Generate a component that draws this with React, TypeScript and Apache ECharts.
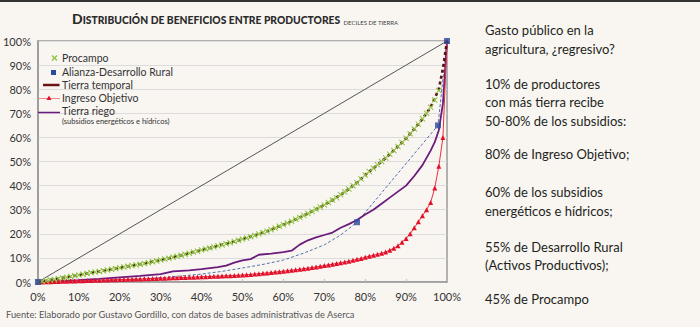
import React, { useEffect, useRef } from "react";
import * as echarts from "echarts";

// Procampo: share of subsidies by cumulative % of producers (1% steps, 0..98)
const procampo = [
  0, 0.2, 0.5, 0.8, 1.1, 1.4, 1.7, 2.0, 2.3, 2.6, 2.9,
  3.2, 3.5, 3.8, 4.1, 4.4, 4.7, 5.0, 5.3, 5.6, 5.9,
  6.2, 6.5, 6.8, 7.1, 7.4, 7.7, 8.0, 8.4, 8.7, 9.1,
  9.5, 9.9, 10.3, 10.7, 11.1, 11.5, 11.9, 12.4, 12.8, 13.3,
  13.7, 14.1, 14.5, 15.0, 15.4, 15.9, 16.3, 16.8, 17.3, 17.8,
  18.3, 18.8, 19.3, 19.9, 20.5, 21.1, 21.7, 22.4, 23.1, 23.8,
  24.5, 25.2, 26.0, 26.8, 27.6, 28.4, 29.3, 30.2, 31.1, 32.0,
  33.0, 34.0, 35.0, 36.2, 37.4, 38.6, 39.9, 41.2, 42.8, 44.4,
  45.8, 47.2, 48.6, 50.0, 51.5, 53.0, 54.6, 56.2, 57.9, 59.6,
  61.5, 63.5, 65.5, 67.7, 70.0, 72.5, 75.5, 79.5,
];

// Tierra temporal
const temporalX = [
  0, 2, 4, 6, 8, 10, 12, 14, 16, 18, 20, 22, 24, 26, 28, 30, 32, 34, 36, 38, 40,
  42, 44, 46, 48, 50, 52, 54, 56, 58, 60, 62, 64, 66, 68, 70, 72, 74, 76, 78, 80,
  82, 84, 86, 88, 90, 92, 94, 96, 98, 99, 100,
];
const temporalY = [
  0, 0.5, 1.1, 1.7, 2.3, 2.9, 3.5, 4.1, 4.7, 5.3, 5.9, 6.5, 7.1, 7.7, 8.4, 9.1,
  9.9, 10.7, 11.5, 12.4, 13.3, 14.1, 15.0, 15.9, 16.8, 17.8, 18.8, 19.9, 21.1,
  22.4, 23.8, 25.2, 26.8, 28.4, 30.2, 32.0, 34.0, 36.2, 38.6, 41.2, 44.4, 47.2,
  50.0, 53.0, 56.2, 59.6, 63.5, 67.7, 72.5, 80.0, 88.5, 100,
];

// Ingreso Objetivo (1% steps, 0..100)
const ingreso = [
  0, 0.05, 0.1, 0.15, 0.2, 0.25, 0.3, 0.35, 0.4, 0.45, 0.5,
  0.55, 0.6, 0.65, 0.7, 0.75, 0.8, 0.85, 0.9, 0.95, 1.0,
  1.05, 1.1, 1.15, 1.2, 1.25, 1.3, 1.36, 1.42, 1.48, 1.54,
  1.6, 1.66, 1.72, 1.78, 1.84, 1.9, 1.96, 2.02, 2.08, 2.15,
  2.22, 2.29, 2.36, 2.43, 2.5, 2.57, 2.64, 2.71, 2.8, 2.9,
  3.0, 3.15, 3.3, 3.45, 3.6, 3.75, 3.9, 4.1, 4.3, 4.5,
  4.7, 4.9, 5.1, 5.3, 5.5, 5.75, 6.0, 6.25, 6.5, 6.8,
  7.1, 7.4, 7.7, 8.0, 8.3, 8.6, 9.0, 9.4, 9.8, 10.3,
  10.7, 11.1, 11.5, 11.9, 12.5, 13.2, 14.0, 15.0, 16.5, 18.0,
  20.0, 22.5, 25.0, 27.5, 30.0, 33.0, 39.0, 48.0, 60.0, 100,
];

// Tierra riego (subsidios energéticos e hídricos)
const riegoX = [
  0, 5, 10, 15, 20, 25, 30, 33, 37, 40, 44, 46, 48, 50, 52, 54, 57, 60, 62, 64,
  66, 68, 70, 72, 74, 76, 78, 80, 82, 84, 86, 88, 90, 92, 94, 96, 97, 98, 99, 100,
];
const riegoY = [
  0, 0.4, 0.8, 1.3, 1.9, 2.5, 3.3, 4.4, 4.8, 5.3, 6.2, 6.8, 8.0, 9.0, 9.5, 11.3,
  11.8, 12.4, 13.0, 15.5, 17.3, 18.5, 19.5, 20.5, 22.5, 24.0, 25.7, 28, 30, 32.5,
  35, 37.5, 40, 44, 48.5, 54.5, 58, 63, 74, 100,
];

// Alianza-Desarrollo Rural: dashed curve + square markers
const alianzaCurveX = [0, 5, 10, 15, 20, 25, 30, 35, 40, 45, 50, 55, 60, 65, 70, 74, 78, 97.8, 100];
const alianzaCurveY = [0, 0.1, 0.3, 0.5, 0.8, 1.2, 1.8, 2.5, 3.3, 4.4, 5.8, 7.3, 9.1, 12, 15.4, 19.5, 24.8, 65, 100];
const alianzaX = [0, 78, 97.8, 100];
const alianzaY = [0, 24.8, 65, 100];

const equalityX = [0, 100];
const equalityY = [0, 100];

const rightText = [
  "Gasto público en la",
  "agricultura, ¿regresivo?",
  "10% de productores",
  "con más tierra recibe",
  "50-80% de los subsidios:",
  "80% de Ingreso Objetivo;",
  "60% de los subsidios",
  "energéticos e hídricos;",
  "55% de Desarrollo Rural",
  "(Activos Productivos);",
  "45% de Procampo",
];
const rightTextY = [30, 48.5, 83.5, 102, 120.5, 153.5, 192, 210.5, 246.5, 265, 298.5];

const zip = (xs: number[], ys: number[]) => xs.map((x, i) => [x, ys[i]]);
const byPercent = (ys: number[]) => ys.map((y, i) => [i, y]);

const FONT = "Lato, 'Open Sans', sans-serif";
const X_PATH = "path://M0,1.2L1.2,0L5,3.8L8.8,0L10,1.2L6.2,5L10,8.8L8.8,10L5,6.2L1.2,10L0,8.8L3.8,5Z";

export default function App() {
  const ref = useRef<HTMLDivElement>(null);
  useEffect(() => {
    if (!ref.current) return;
    const chart = echarts.init(ref.current, undefined, { renderer: "svg" });
    const legendX = 62;
    const option: any = {
      animation: false,
      backgroundColor: "#f9f6f2",
      grid: {
        left: 32, right: 253, top: 41, bottom: 45,
        show: true, borderColor: "#9a9a9a", borderWidth: 1.5, backgroundColor: "transparent",
      },
      xAxis: {
        type: "value", min: 0, max: 100, interval: 10,
        axisLabel: { formatter: "{value}%", fontFamily: FONT, fontSize: 11, color: "#333", margin: 9 },
        axisLine: { show: true, lineStyle: { color: "#999", width: 1.5 } },
        axisTick: { show: true, inside: true, length: 3, lineStyle: { color: "#bbb" } },
        splitLine: { show: false },
      },
      yAxis: {
        type: "value", min: 0, max: 100, interval: 10,
        axisLabel: { formatter: "{value}%", fontFamily: FONT, fontSize: 11, color: "#333", margin: 7 },
        axisLine: { show: true, lineStyle: { color: "#999", width: 1.5 } },
        axisTick: { show: false },
        splitLine: { show: true, lineStyle: { color: "#dcdcdc", width: 1 } },
      },
      series: [
        {
          name: "Igualdad", type: "line", data: zip(equalityX, equalityY), symbol: "none",
          lineStyle: { color: "#555", width: 1 }, z: 1,
        },
        {
          name: "Alianza curva", type: "line", data: zip(alianzaCurveX, alianzaCurveY), symbol: "none",
          lineStyle: { color: "#4f72aa", width: 1, type: [3, 2] }, z: 2,
        },
        {
          name: "Tierra riego", type: "line", data: zip(riegoX, riegoY), symbol: "none",
          lineStyle: { color: "#6a1b7c", width: 1.8 }, z: 3,
        },
        {
          name: "Ingreso Objetivo", type: "line", data: byPercent(ingreso), symbol: "triangle",
          symbolSize: 5, showAllSymbol: true,
          itemStyle: { color: "#e3102b" }, lineStyle: { color: "#e8303f", width: 1 }, z: 4,
        },
        {
          name: "Tierra temporal", type: "line", data: zip(temporalX, temporalY), symbol: "none",
          lineStyle: { color: "#5a1212", width: 2.6, type: [3, 3] }, z: 5,
        },
        {
          name: "Procampo", type: "scatter", data: byPercent(procampo), symbol: X_PATH,
          symbolSize: 6, itemStyle: { color: "#8cc63f", opacity: 1 }, z: 6,
        },
        {
          name: "Alianza-Desarrollo Rural", type: "scatter", data: zip(alianzaX, alianzaY), symbol: "rect",
          symbolSize: 6, itemStyle: { color: "#2a4b9e" }, z: 7,
        },
      ],
      graphic: [
        { type: "rect", shape: { x: 0, y: 0, width: 700, height: 2 }, style: { fill: "#333" }, z: 100 },
        {
          type: "text", x: 72, y: 17, z: 100,
          style: {
            text: "{a|D}{b|ISTRIBUCIÓN DE BENEFICIOS ENTRE PRODUCTORES} {c|DECILES DE TIERRA}",
            verticalAlign: "middle",
            rich: {
              a: { fontFamily: FONT, fontSize: 14, fontWeight: 900, fill: "#2a2a2a", lineHeight: 16, verticalAlign: "bottom" },
              b: { fontFamily: FONT, fontSize: 10.3, fontWeight: 900, fill: "#2a2a2a", lineHeight: 16, verticalAlign: "bottom" },
              c: { fontFamily: FONT, fontSize: 6, fill: "#444", lineHeight: 16, verticalAlign: "bottom" },
            },
          },
        },
        // legend
        {
          type: "polygon", z: 100,
          shape: { points: [[51.5, 56], [52.5, 55], [54.5, 57], [56.5, 55], [57.5, 56], [55.5, 58], [57.5, 60], [56.5, 61], [54.5, 59], [52.5, 61], [51.5, 60], [53.5, 58]] },
          style: { fill: "#8cc63f" },
        },
        { type: "text", x: legendX, y: 58, z: 100, style: { text: "Procampo", font: `10.5px ${FONT}`, fill: "#333", verticalAlign: "middle" } },
        { type: "rect", z: 100, shape: { x: 51, y: 70, width: 5, height: 5 }, style: { fill: "#2a4b9e" } },
        { type: "text", x: legendX, y: 72.3, z: 100, style: { text: "Alianza-Desarrollo Rural", font: `10.5px ${FONT}`, fill: "#333", verticalAlign: "middle" } },
        { type: "line", z: 100, shape: { x1: 43, y1: 85, x2: 59.5, y2: 85 }, style: { stroke: "#6b1414", lineWidth: 2.5 } },
        { type: "text", x: legendX, y: 84.5, z: 100, style: { text: "Tierra temporal", font: `10.5px ${FONT}`, fill: "#333", verticalAlign: "middle" } },
        { type: "line", z: 100, shape: { x1: 38, y1: 98.5, x2: 60, y2: 98.5 }, style: { stroke: "#f08a8f", lineWidth: 1 } },
        { type: "polygon", z: 100, shape: { points: [[49, 95.5], [51.5, 100], [46.5, 100]] }, style: { fill: "#e3102b" } },
        { type: "text", x: legendX, y: 98.3, z: 100, style: { text: "Ingreso Objetivo", font: `10.5px ${FONT}`, fill: "#333", verticalAlign: "middle" } },
        { type: "line", z: 100, shape: { x1: 38, y1: 112.5, x2: 60, y2: 112.5 }, style: { stroke: "#6a1b7c", lineWidth: 1.5 } },
        { type: "text", x: legendX, y: 111, z: 100, style: { text: "Tierra riego", font: `10.5px ${FONT}`, fill: "#333", verticalAlign: "middle" } },
        { type: "text", x: legendX, y: 121.5, z: 100, style: { text: "(subsidios energéticos e hídricos)", font: `7.5px ${FONT}`, fill: "#333", verticalAlign: "middle" } },
        // source
        {
          type: "text", x: 6, y: 314, z: 100,
          style: { text: "Fuente: Elaborado por Gustavo Gordillo, con datos de bases administrativas de Aserca", font: `9.3px ${FONT}`, fill: "#555", verticalAlign: "middle" },
        },
        // right text
        ...rightText.map((t, i) => ({
          type: "text", x: 485, y: rightTextY[i], z: 100,
          style: { text: t, font: `13px ${FONT}`, fill: "#231f20", verticalAlign: "middle" },
        })),
      ],
    };
    chart.setOption(option);
    return () => chart.dispose();
  }, []);
  return <div ref={ref} style={{ position: "fixed", left: 0, top: 0, width: 700, height: 327 }} />;
}
